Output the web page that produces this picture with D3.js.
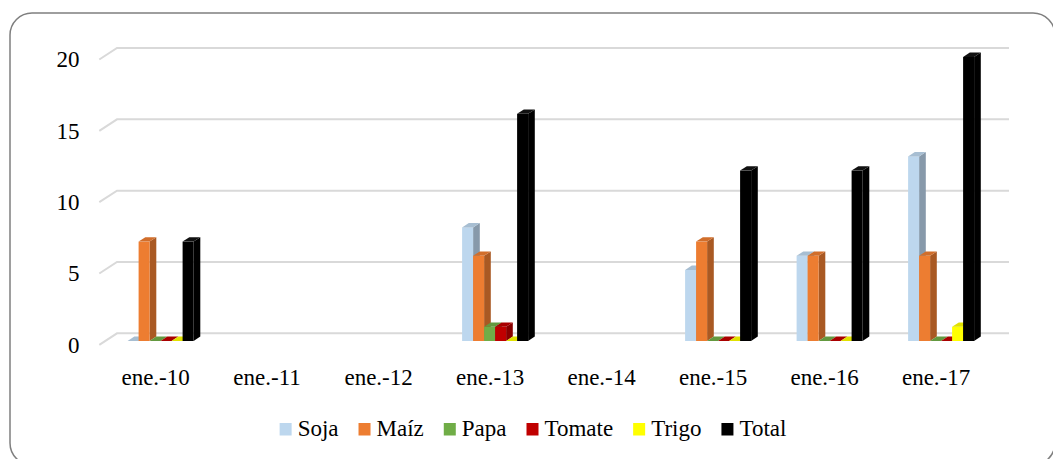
<!DOCTYPE html>
<html>
<head>
<meta charset="utf-8">
<script src="https://cdn.jsdelivr.net/npm/d3@7"></script>
</head>
<body style="margin:0;background:#fff">
<svg id="chart" width="1053" height="459" style="font-family: 'Liberation Serif', 'Times New Roman', Times, serif;"></svg>
<script>
const categories = ["ene.-10","ene.-11","ene.-12","ene.-13","ene.-14","ene.-15","ene.-16","ene.-17"];
const seriesNames = ["Soja","Maíz","Papa","Tomate","Trigo","Total"];
const soja   = [0, null, null, 8, null, 5, 6, 13];
const maiz   = [7, null, null, 6, null, 7, 6, 6];
const papa   = [0, null, null, 1, null, 0, 0, 0];
const tomate = [0, null, null, 1, null, 0, 0, 0];
const trigo  = [0, null, null, 0, null, 0, 0, 1];
const total  = [7, null, null, 16, null, 12, 12, 20];
const yTicks = [0, 5, 10, 15, 20];
const seriesColors = ["#BDD7EE", "#ED7D31", "#70AD47", "#C00000", "#FFFF00", "#000000"];

const seriesValues = [soja, maiz, papa, tomate, trigo, total];

const svg = d3.select("#chart");
const fontSize = 23;

function styleText(sel) {
  return sel.style("font-family", "Liberation Serif")
            .attr("font-size", fontSize)
            .attr("fill", "#000");
}

// border
svg.append("rect")
  .attr("x", 10).attr("y", 13)
  .attr("width", 1045).attr("height", 452)
  .attr("rx", 22).attr("ry", 22)
  .attr("fill", "#fff")
  .attr("stroke", "#7f7f7f").attr("stroke-width", 1.5);

// 3D geometry
const wallDX = 17.7, wallDY = 11.5;
const depthDX = 6.7, depthDY = 4.4;
const yBack = d3.scaleLinear().domain([0, 20]).range([333.3, 48]);
const yBar = d3.scaleLinear().domain([0, 20]).range([341, 57]);
const x = d3.scaleBand().domain(categories).range([104.85, 996.85]).padding(0);
const xInner = d3.scaleBand().domain(seriesNames).range([0, 66]).padding(0);
const backLeft = 117, backRight = 1009;

// gridlines
const grid = svg.append("g");
yTicks.forEach(v => {
  const yb = yBack(v);
  grid.append("path")
    .attr("d", `M${backLeft - wallDX},${yb + wallDY}L${backLeft},${yb}L${backRight},${yb}`)
    .attr("fill", "none")
    .attr("stroke", "#d9d9d9")
    .attr("stroke-width", 2);
});

// y labels
yTicks.forEach(d => {
  styleText(svg.append("text"))
    .attr("x", 79.5)
    .attr("y", yBack(d) + wallDY + 7.8)
    .attr("text-anchor", "end")
    .text(d);
});

// category labels
categories.forEach(d => {
  styleText(svg.append("text"))
    .attr("x", x(d) + x.bandwidth() / 2 - 5)
    .attr("y", 384.5)
    .attr("text-anchor", "middle")
    .text(d);
});

// bars
const groupW = 66;
const bars = svg.append("g");
categories.forEach((c, ci) => {
  const gx = x(c) + x.bandwidth() / 2 - groupW / 2;
  seriesNames.forEach((s, si) => {
    const v = seriesValues[si][ci];
    if (v === null || v === undefined) return;
    const col = d3.color(seriesColors[si]);
    const sideCol = si === 5 ? "#000" : col.darker(0.95).formatHex();
    const topCol = si === 5 ? "#111" : col.darker(0.35).formatHex();
    const x0 = gx + xInner(s), w = xInner.bandwidth();
    const yT = yBar(v), y0 = yBar(0);
    bars.append("path")
      .attr("d", `M${x0 + w},${y0}L${x0 + w + depthDX},${y0 - depthDY}L${x0 + w + depthDX},${yT - depthDY}L${x0 + w},${yT}Z`)
      .attr("fill", sideCol);
    if (v > 0) {
      bars.append("rect")
        .attr("x", x0).attr("y", yT)
        .attr("width", w).attr("height", y0 - yT)
        .attr("fill", col.formatHex());
    }
    bars.append("path")
      .attr("d", `M${x0},${yT}L${x0 + depthDX},${yT - depthDY}L${x0 + w + depthDX},${yT - depthDY}L${x0 + w},${yT}Z`)
      .attr("fill", topCol);
  });
});

// legend
const legend = svg.append("g");
let lx = 0;
seriesNames.forEach((s, i) => {
  legend.append("rect").attr("x", lx).attr("y", -12.5).attr("width", 12).attr("height", 12.5)
    .attr("fill", seriesColors[i]);
  const t = styleText(legend.append("text")).attr("x", lx + 18).attr("y", 0).text(s);
  const tw = t.node().getComputedTextLength();
  lx += 18 + tw + 20;
});
const legendW = lx - 20;
legend.attr("transform", `translate(${533 - legendW / 2},435.5)`);
</script>
</body>
</html>
